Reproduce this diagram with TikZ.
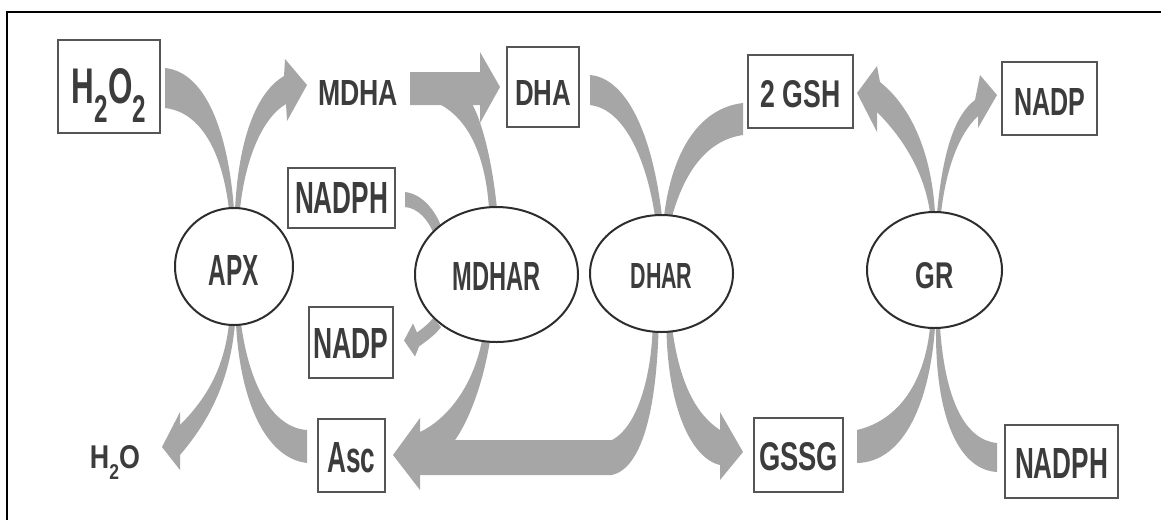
\documentclass[tikz,border=0pt]{standalone}
\usepackage{fontspec}
\setmainfont{Liberation Sans}
\usepackage{graphicx}
\usetikzlibrary{shapes.geometric}
\definecolor{bandgray}{RGB}{166,166,166}
\definecolor{boxline}{RGB}{85,85,85}
\definecolor{ellline}{RGB}{45,45,45}
\definecolor{txt}{RGB}{60,60,60}
\pgfdeclarelayer{bg}
\pgfsetlayers{bg,main}
\newcommand{\fitlbl}[3]{\resizebox{#1pt}{#2pt}{\bfseries #3}}
\newcommand{\subtwo}[2]{\raisebox{-#1pt}{\fontsize{#2}{#2}\selectfont 2}}
\begin{document}
\begin{tikzpicture}[x=1pt,y=-1pt,
  box/.style={draw=boxline, line width=2.5pt, fill=white, inner sep=0pt, anchor=base, text=txt},
  ell/.style={ellipse, draw=ellline, line width=2pt, fill=white, inner sep=0pt, text depth=0pt, text=txt},
  lbl/.style={inner sep=0pt, anchor=base, text=txt},
  flow/.style={fill=bandgray}]
\useasboundingbox (0,0) rectangle (1161,520);
% frame
\draw[line width=2pt] (7,520) -- (7,12) -- (1161,12);
% boxes
\node[box, minimum width=102pt, text height=63pt, text depth=30pt] (h2o2) at (109,103) {\fitlbl{74}{35}{H\subtwo{3.9}{7.7}O\subtwo{3.9}{7.7}}};
\node[box, minimum width=107pt, text height=45pt, text depth=15pt] (nadph1) at (341.5,213) {\fitlbl{93}{31}{NADPH}};
\node[box, minimum width=84pt, text height=51pt, text depth=20pt] (nadp1) at (351,358) {\fitlbl{75}{30}{NADP}};
\node[box, minimum width=67pt, text height=53pt, text depth=20pt] (asc) at (351.5,472) {\fitlbl{48}{30}{Asc}};
\node[box, minimum width=72pt, text height=58pt, text depth=22pt] (dha) at (543,105) {\fitlbl{56}{25}{DHA}};
\node[box, minimum width=105pt, text height=52pt, text depth=21pt] (gsh) at (800.5,107) {\fitlbl{80}{27}{2 GSH}};
\node[box, minimum width=95pt, text height=53pt, text depth=20pt] (nadp2) at (1049.5,115) {\fitlbl{71}{27}{NADP}};
\node[box, minimum width=89pt, text height=52pt, text depth=22pt] (gssg) at (798.5,470) {\fitlbl{79}{28}{GSSG}};
\node[box, minimum width=113pt, text height=53pt, text depth=20pt] (nadph2) at (1061.5,478) {\fitlbl{93}{30}{NADPH}};
% plain labels
\node[lbl] (mdha) at (358,105) {\fitlbl{80}{25}{MDHA}};
\node[lbl] (h2o) at (115,468) {\fitlbl{50}{23}{H\subtwo{3.6}{6.5}O}};
% enzymes
\node[ell, minimum width=118pt, minimum height=117pt, text height=37pt] (apx) at (234,266.5) {\fitlbl{50}{30}{APX}};
\node[ell, minimum width=163pt, minimum height=135pt, text height=31pt] (mdhar) at (496.5,274.5) {\fitlbl{88}{28}{MDHAR}};
\node[ell, minimum width=143pt, minimum height=117pt, text height=29pt] (dhar) at (661.5,273.5) {\fitlbl{62}{25}{DHAR}};
\node[ell, minimum width=135pt, minimum height=116pt, text height=36pt] (gr) at (934.5,270) {\fitlbl{38}{26}{GR}};
% flows
\begin{pgfonlayer}{bg}
% H2O2 -> APX
\fill[flow] ([shift={(56,-18.5)}]h2o2.center) .. controls (205,72) and (228,130) .. ([shift={(0,-57)}]apx.center)
  -- ([shift={(-5,-57)}]apx.center) .. controls (222,150) and (200,112) .. ([shift={(56,21.5)}]h2o2.center) -- cycle;
% APX -> MDHA
\fill[flow] ([shift={(1,-57)}]apx.center) .. controls (238,150) and (252,95) .. ([shift={(-74,-29)}]mdha.base)
  -- ([shift={(-73,-46)}]mdha.base) -- ([shift={(-51,-20)}]mdha.base) -- ([shift={(-71,16)}]mdha.base)
  -- ([shift={(-72,-1)}]mdha.base) .. controls (262,118) and (245,160) .. ([shift={(6,-57)}]apx.center) -- cycle;
% APX -> H2O
\fill[flow] ([shift={(-5,57)}]apx.center) .. controls (224,370) and (205,400) .. ([shift={(65,-43)}]h2o.base)
  -- ([shift={(65,-56)}]h2o.base) -- ([shift={(47,-21)}]h2o.base) -- ([shift={(65,2)}]h2o.base)
  -- ([shift={(65,-13)}]h2o.base) .. controls (210,420) and (230,380) .. ([shift={(1,57)}]apx.center) -- cycle;
% Asc -> APX
\fill[flow] ([shift={(-44.5,-25.5)}]asc.center) .. controls (275,428) and (250,390) .. ([shift={(7,57)}]apx.center)
  -- ([shift={(2,57)}]apx.center) .. controls (240,400) and (265,458) .. ([shift={(-44.5,7.5)}]asc.center) -- cycle;
% MDHA -> DHA
\fill[flow] ([shift={(52,-33)}]mdha.base) -- ([shift={(-63,-15)}]dha.center) -- ([shift={(-63,-35)}]dha.center)
  -- ([shift={(-43,0)}]dha.center) -- ([shift={(-63,36)}]dha.center) -- ([shift={(-63,18)}]dha.center)
  -- ([shift={(52,0)}]mdha.base) -- cycle;
% MDHAR -> DHA
\fill[flow] ([shift={(-113,13)}]dha.center) .. controls (465,112) and (485,150) .. ([shift={(-7.5,-66)}]mdhar.center)
  -- ([shift={(0.5,-66)}]mdhar.center) .. controls (492,160) and (482,120) .. ([shift={(-73,13)}]dha.center) -- cycle;
% NADPH -> MDHAR
\fill[flow] ([shift={(63.5,-6)}]nadph1.center) .. controls (422,194) and (435,210) .. ([shift={(-55.5,-48.5)}]mdhar.center)
  -- ([shift={(-63.5,-42.5)}]mdhar.center) .. controls (428,220) and (418,208) .. ([shift={(63.5,9)}]nadph1.center) -- cycle;
% MDHAR -> NADP
\fill[flow] ([shift={(53,-2)}]nadp1.center) -- ([shift={(64,14)}]nadp1.center) -- ([shift={(68,4)}]nadp1.center)
  .. controls (428,340) and (436,334) .. ([shift={(-55.5,52.5)}]mdhar.center)
  -- ([shift={(-63.5,43.5)}]mdhar.center) .. controls (430,322) and (426,326) .. ([shift={(66,-10)}]nadp1.center)
  -- ([shift={(62,-19)}]nadp1.center) -- cycle;
% MDHAR + DHAR -> Asc
\fill[flow] ([shift={(41.5,-0.5)}]asc.center) -- ([shift={(68.5,-37.5)}]asc.center) -- ([shift={(68.5,-23.5)}]asc.center)
  .. controls (445,420) and (472,390) .. ([shift={(-14.5,66)}]mdhar.center)
  -- ([shift={(-6.5,66)}]mdhar.center) .. controls (482,390) and (466,425) .. (455,440)
  -- (612,440) .. controls (640,425) and (651,370) .. ([shift={(-9,58)}]dhar.center)
  -- ([shift={(-3,58)}]dhar.center) .. controls (656,410) and (642,468) .. (612,475)
  -- ([shift={(68.5,19.5)}]asc.center) -- ([shift={(68.5,34.5)}]asc.center) -- cycle;
% DHA -> DHAR
\fill[flow] ([shift={(47,-12)}]dha.center) .. controls (625,78) and (652,130) .. ([shift={(0.5,-57)}]dhar.center)
  -- ([shift={(-6.5,-57)}]dhar.center) .. controls (645,150) and (620,108) .. ([shift={(47,18)}]dha.center) -- cycle;
% DHAR -> 2 GSH
\fill[flow] ([shift={(2.5,-57)}]dhar.center) .. controls (672,150) and (700,108) .. ([shift={(-57.5,11.5)}]gsh.center)
  -- ([shift={(-57.5,43.5)}]gsh.center) .. controls (708,140) and (685,170) .. ([shift={(10.5,-57)}]dhar.center) -- cycle;
% DHAR -> GSSG
\fill[flow] ([shift={(5,57)}]dhar.center) .. controls (668,405) and (690,458) .. ([shift={(-78.5,10)}]gssg.center)
  -- ([shift={(-78.5,25)}]gssg.center) -- ([shift={(-55.5,-3)}]gssg.center) -- ([shift={(-78.5,-43)}]gssg.center)
  -- ([shift={(-78.5,-25)}]gssg.center) .. controls (697,415) and (680,385) .. ([shift={(11,57)}]dhar.center) -- cycle;
% GR -> 2 GSH
\fill[flow] ([shift={(-4.5,-57)}]gr.center) .. controls (925,175) and (905,140) .. ([shift={(76.5,20.5)}]gsh.center)
  -- ([shift={(76.5,40.5)}]gsh.center) -- ([shift={(56.5,1.5)}]gsh.center) -- ([shift={(76.5,-25.5)}]gsh.center)
  -- ([shift={(79.5,-9.5)}]gsh.center) .. controls (915,110) and (932,160) .. ([shift={(0.5,-57)}]gr.center) -- cycle;
% GR -> NADP
\fill[flow] ([shift={(2.5,-57)}]gr.center) .. controls (943,150) and (955,115) .. ([shift={(-74.5,1.5)}]nadp2.center)
  -- ([shift={(-69.5,-23.5)}]nadp2.center) -- ([shift={(-52.5,-3.5)}]nadp2.center) -- ([shift={(-71.5,29.5)}]nadp2.center)
  -- ([shift={(-71.5,17.5)}]nadp2.center) .. controls (958,135) and (946,170) .. ([shift={(6.5,-57)}]gr.center) -- cycle;
% GSSG -> GR
\fill[flow] ([shift={(58.5,-25)}]gssg.center) .. controls (900,420) and (925,380) .. ([shift={(-4.5,57)}]gr.center)
  -- ([shift={(0.5,57)}]gr.center) .. controls (930,400) and (905,462) .. ([shift={(58.5,8)}]gssg.center) -- cycle;
% NADPH -> GR
\fill[flow] ([shift={(5.5,57)}]gr.center) .. controls (945,400) and (965,440) .. ([shift={(-64.5,-18.5)}]nadph2.center)
  -- ([shift={(-64.5,10.5)}]nadph2.center) .. controls (960,470) and (935,420) .. ([shift={(1.5,57)}]gr.center) -- cycle;
\end{pgfonlayer}
\end{tikzpicture}
\end{document}
